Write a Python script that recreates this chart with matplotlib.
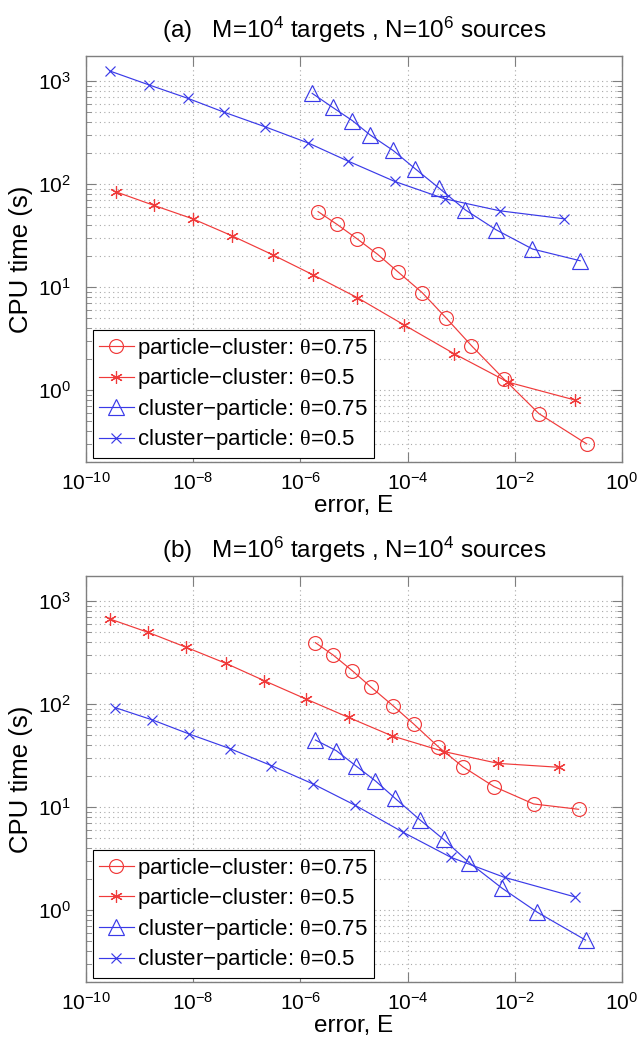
import matplotlib
matplotlib.use('Agg')
import matplotlib.pyplot as plt
import matplotlib.ticker as mticker
import numpy as np

plt.rcParams['font.family'] = ['Liberation Sans', 'DejaVu Sans']
plt.rcParams['mathtext.fontset'] = 'custom'
plt.rcParams['mathtext.rm'] = 'Liberation Sans'
plt.rcParams['mathtext.it'] = 'Liberation Sans:italic'
plt.rcParams['mathtext.sf'] = 'Liberation Serif'

# ---- datos panel (a): M=1e4 targets, N=1e6 sources ----
a_pc75_err = [-5.67, -5.32, -4.95, -4.56, -4.17, -3.73, -3.28, -2.81, -2.21, -1.55, -0.66]
a_pc75_t = [54, 40.7, 29.6, 20.8, 13.9, 8.85, 5.0, 2.7, 1.29, 0.59, 0.30]
a_pc50_err = [-9.44, -8.73, -8.01, -7.28, -6.52, -5.76, -4.94, -4.07, -3.13, -2.12, -0.88]
a_pc50_t = [84, 62, 46, 31.5, 20.6, 13.1, 7.9, 4.3, 2.25, 1.19, 0.80]
a_cp75_err = [-5.78, -5.40, -5.03, -4.70, -4.27, -3.86, -3.42, -2.92, -2.35, -1.67, -0.78]
a_cp75_t = [760, 556, 413, 300, 212, 141, 92, 56, 36, 23.4, 18]
a_cp50_err = [-9.55, -8.83, -8.10, -7.43, -6.66, -5.85, -5.11, -4.24, -3.31, -2.28, -1.08]
a_cp50_t = [1250, 920, 680, 500, 360, 250, 167, 106, 72, 55, 46]

# ---- datos panel (b): M=1e6 targets, N=1e4 sources ----
b_pc75_err = [-5.72, -5.39, -5.03, -4.69, -4.27, -3.88, -3.43, -2.97, -2.39, -1.65, -0.81]
b_pc75_t = [394, 299, 210, 147, 96, 63.5, 38.5, 24.6, 15.8, 10.7, 9.5]
b_pc50_err = [-9.55, -8.84, -8.13, -7.39, -6.67, -5.90, -5.10, -4.29, -3.32, -2.31, -1.18]
b_pc50_t = [668, 496, 355, 248, 168, 112, 74, 49, 34.5, 26.5, 24.3]
b_cp75_err = [-5.72, -5.33, -4.97, -4.60, -4.23, -3.77, -3.33, -2.85, -2.24, -1.58, -0.68]
b_cp75_t = [44.7, 35.2, 25.2, 17.9, 12.1, 7.5, 4.85, 2.88, 1.63, 0.95, 0.51]
b_cp50_err = [-9.45, -8.76, -8.07, -7.31, -6.54, -5.76, -4.98, -4.09, -3.19, -2.19, -0.88]
b_cp50_t = [92, 70, 51, 36.8, 25.2, 16.7, 10.4, 5.7, 3.24, 2.07, 1.34]

labels = ['particle\u2212cluster: $\\mathsf{\\theta}$=0.75',
          'particle\u2212cluster: $\\mathsf{\\theta}$=0.5',
          'cluster\u2212particle: $\\mathsf{\\theta}$=0.75',
          'cluster\u2212particle: $\\mathsf{\\theta}$=0.5']
titles = ['(a)   M=10$^{4}$ targets , N=10$^{6}$ sources',
          '(b)   M=10$^{6}$ targets , N=10$^{4}$ sources']

red = '#f03a3a'
blue = '#3a3ae8'
gris = '#7f7f7f'


def panel(ax, series, titulo):
    estilos = [dict(color=red, marker='o', ms=10),
               dict(color=red, marker=(6, 2, 0), ms=9),
               dict(color=blue, marker='^', ms=11),
               dict(color=blue, marker='x', ms=7)]
    for (err, t), est, lab in zip(series, estilos, labels):
        ax.plot(10.0 ** np.array(err), t, linewidth=0.85, mfc='none',
                mew=0.85, label=lab, **est)

    ax.set_xscale('log')
    ax.set_yscale('log')
    ax.set_xlim(1e-10, 1)
    ax.set_ylim(0.2, 1750)
    ax.xaxis.set_major_locator(mticker.FixedLocator([1e-10, 1e-8, 1e-6, 1e-4, 1e-2, 1]))
    ax.xaxis.set_minor_locator(mticker.NullLocator())
    ax.yaxis.set_major_locator(mticker.LogLocator(base=10, numticks=10))
    ax.yaxis.set_minor_locator(mticker.LogLocator(base=10, subs=np.arange(2, 10), numticks=10))
    ax.yaxis.set_minor_formatter(mticker.NullFormatter())

    ax.grid(True, which='major', linestyle=(0, (1, 3)), color='#a8a8a8', linewidth=0.8)
    ax.grid(True, which='minor', axis='y', linestyle=(0, (1, 3)), color='#a8a8a8', linewidth=0.8)
    ax.tick_params(which='both', direction='in', top=True, right=True, color=gris,
                   labelsize=15)
    ax.tick_params(axis='x', which='both', pad=7)
    ax.tick_params(axis='y', which='both', pad=11)
    ax.tick_params(which='major', length=7)
    ax.tick_params(which='minor', length=3.5)
    for s in ax.spines.values():
        s.set_color(gris)
        s.set_linewidth(1.0)

    ax.set_title(titulo, fontsize=17.5, pad=13)
    ax.set_xlabel('error, E', fontsize=17.5, va='top')
    ax.xaxis.set_label_coords(0.5, -0.082)
    ax.set_ylabel('CPU time (s)', fontsize=18.5, va='center')
    ax.yaxis.set_label_coords(-0.121, 0.5)
    leg = ax.legend(loc='lower left', bbox_to_anchor=(0.013, 0.01), borderaxespad=0,
                    prop={'size': 16}, fancybox=False, edgecolor='black', framealpha=1,
                    handlelength=1.6, handletextpad=0.15, labelspacing=0.25,
                    borderpad=0.25, numpoints=1)
    leg.get_frame().set_linewidth(0.8)


fig = plt.figure(figsize=(6.39, 10.38), dpi=100)
ax1 = fig.add_axes([0.1346, 0.5549, 0.8388, 0.3911])
ax2 = fig.add_axes([0.1346, 0.0540, 0.8388, 0.3911])

panel(ax1, [(a_pc75_err, a_pc75_t), (a_pc50_err, a_pc50_t),
            (a_cp75_err, a_cp75_t), (a_cp50_err, a_cp50_t)], titles[0])
panel(ax2, [(b_pc75_err, b_pc75_t), (b_pc50_err, b_pc50_t),
            (b_cp75_err, b_cp75_t), (b_cp50_err, b_cp50_t)], titles[1])

plt.savefig('out.png', dpi=100)
plt.close()
